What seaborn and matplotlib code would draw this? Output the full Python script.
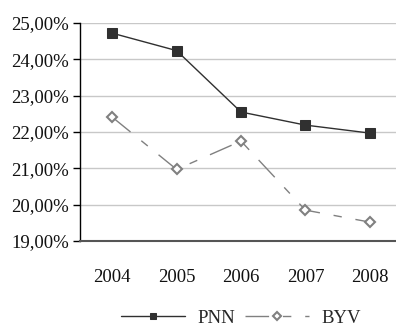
import matplotlib
matplotlib.use("Agg")
import matplotlib.pyplot as plt
import seaborn as sns
import pandas as pd
from matplotlib.ticker import FuncFormatter, FixedLocator

years = ["2004", "2005", "2006", "2007", "2008"]
pnn = [24.72, 24.24, 22.55, 22.19, 21.97]
byv = [22.41, 20.97, 21.75, 19.85, 19.52]
yticks = [19, 20, 21, 22, 23, 24, 25]

sns.set_theme(style="white")
plt.rcParams['font.family'] = ['Liberation Serif', 'DejaVu Serif']

fig = plt.figure(figsize=(3.96, 3.34), dpi=100)
ax = fig.add_axes([80/396, 1-241/334, 322/396, (241-23)/334])

xpos = list(range(len(years)))
sns.lineplot(x=xpos, y=pnn, ax=ax, color="#303030", lw=1.0, marker="s",
             markersize=7, markerfacecolor="#303030", markeredgecolor="#303030",
             label="PNN")
sns.lineplot(x=xpos, y=byv, ax=ax, color="#808080", lw=1.0, marker="D",
             markersize=5.5, markerfacecolor="white", markeredgecolor="#808080",
             markeredgewidth=1.5, label="BYV", linestyle=(0, (17, 10, 6, 10)))

ax.set_xlim(-0.5, 4.5)
ax.set_ylim(19, 25)
ax.set_xticks(xpos)
ax.set_xticklabels(years)
ax.yaxis.set_major_locator(FixedLocator(yticks))
ax.yaxis.set_major_formatter(FuncFormatter(lambda v, p: f"{v:.2f}".replace(".", ",") + "%"))
ax.grid(axis="y", color="#c8c8c8", lw=1)
ax.set_axisbelow(True)
for s in ["top", "right"]:
    ax.spines[s].set_visible(False)
ax.spines["left"].set_color("black")
ax.spines["left"].set_linewidth(1.0)
ax.spines["bottom"].set_color("#555555")
ax.spines["bottom"].set_linewidth(1.5)
ax.tick_params(axis="y", left=True, length=5, width=1, color="black", labelsize=13.5, pad=3, labelcolor="#111111")
ax.tick_params(axis="x", bottom=False, labelsize=13.5, pad=14, labelcolor="#111111")

ax.legend(loc="center", bbox_to_anchor=(0.5, -0.355), ncol=2, frameon=False,
          fontsize=13.5, handlelength=3.4, columnspacing=0.5, handletextpad=0.7,
          markerscale=0.7)

fig.savefig("out.png", dpi=100)
